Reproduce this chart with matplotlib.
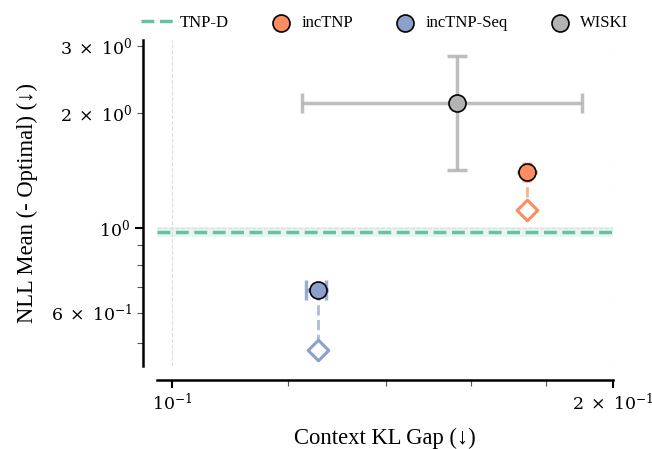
import matplotlib
matplotlib.use("Agg")
import matplotlib.pyplot as plt
import matplotlib.ticker as mticker
import numpy as np

plt.rcParams['font.family'] = ['Liberation Serif', 'DejaVu Serif']
plt.rcParams['mathtext.fontset'] = 'dejavuserif'

# Data
methods = ["incTNP", "incTNP-Seq", "WISKI"]
colors = {"TNP-D": "#66c2a5", "incTNP": "#fc8d62", "incTNP-Seq": "#8da0cb", "WISKI": "#b3b3b3"}
kl_gap = [0.1747, 0.1258, 0.1565]
kl_err_lo = [0.0008, 0.0023, 0.0338]
kl_err_hi = [0.0008, 0.0016, 0.0340]
nll_mean = [1.402, 0.688, 2.125]
nll_err_lo = [0.0, 0.0, 0.706]
nll_err_hi = [0.0, 0.0, 0.695]
nll_alt = [1.115, 0.479, None]   # open diamonds
tnpd_nll = 0.978
tnpd_lo, tnpd_hi = 0.949, 1.008

xtick_vals = [0.1, 0.2]
xtick_labels = [r"$10^{-1}$", r"$2\;\times\;10^{-1}$"]
ylabel_vals = [0.6, 1.0, 2.0, 3.0]
ylabel_texts = [r"$6\;\times\;10^{-1}$", r"$10^{0}$", r"$2\;\times\;10^{0}$", r"$3\;\times\;10^{0}$"]

fig = plt.figure(figsize=(6.52, 4.49), dpi=100)
ax = fig.add_axes([0.2408, 0.185, 0.6995, 0.726])
ax.set_xscale('log')
ax.set_yscale('log')

ax.axhspan(tnpd_lo, tnpd_hi, color=colors["TNP-D"], alpha=0.15, lw=0, zorder=1)
ax.axhline(tnpd_nll, color=colors["TNP-D"], ls='--', lw=2.5, zorder=2, label="TNP-D")

for i, m in enumerate(methods):
    c = colors[m]
    ax.errorbar(kl_gap[i], nll_mean[i],
                xerr=[[kl_err_lo[i]], [kl_err_hi[i]]],
                yerr=[[nll_err_lo[i]], [nll_err_hi[i]]],
                fmt='none', ecolor=c, elinewidth=2.5, capsize=7, capthick=2.5,
                alpha=0.85, zorder=3)
    if nll_alt[i] is not None:
        ax.plot([kl_gap[i], kl_gap[i]], [nll_mean[i], nll_alt[i]], ls='--', color=c,
                lw=2, alpha=0.7, zorder=3)
        ax.scatter([kl_gap[i]], [nll_alt[i]], marker='D', s=110, facecolor='white',
                   edgecolor=c, linewidth=2.2, zorder=4)
    ax.scatter([kl_gap[i]], [nll_mean[i]], marker='o', s=150, color=c,
               edgecolor='black', linewidth=1.2, zorder=5, label=m)

ax.set_xlim(0.0977, 0.2)
ax.set_ylim(0.435, 3.105)
ax.set_xticks(xtick_vals)
ax.set_xticklabels(xtick_labels)
ax.xaxis.set_minor_formatter(mticker.NullFormatter())


def yfmt(v, pos):
    for val, txt in zip(ylabel_vals, ylabel_texts):
        if abs(v - val) < 1e-6:
            return txt
    return ""


ax.yaxis.set_major_formatter(mticker.FuncFormatter(yfmt))
ax.yaxis.set_minor_formatter(mticker.FuncFormatter(yfmt))
ax.grid(True, which='major', ls='--', color='#dddddd', lw=0.8, zorder=0)

for s in ['top', 'right']:
    ax.spines[s].set_visible(False)
for s in ['left', 'bottom']:
    ax.spines[s].set_position(('outward', 10))
    ax.spines[s].set_linewidth(1.8)
ax.tick_params(which='major', length=6, width=1.5, labelsize=12.5)
ax.tick_params(which='minor', length=4, width=0.8, labelsize=12.5, color='#555555')

ax.set_xlabel("Context KL Gap (↓)", fontsize=16.3, labelpad=10)
ax.set_ylabel("NLL Mean (- Optimal) (↓)", fontsize=16.3, labelpad=9)

handles, labels = ax.get_legend_handles_labels()
fig.legend(handles, labels, loc='upper center', bbox_to_anchor=(0.59, 1.0), ncol=4,
           frameon=False, fontsize=12, handlelength=2.2, columnspacing=2.0,
           handletextpad=0.15)

fig.savefig("out.png", dpi=100)
